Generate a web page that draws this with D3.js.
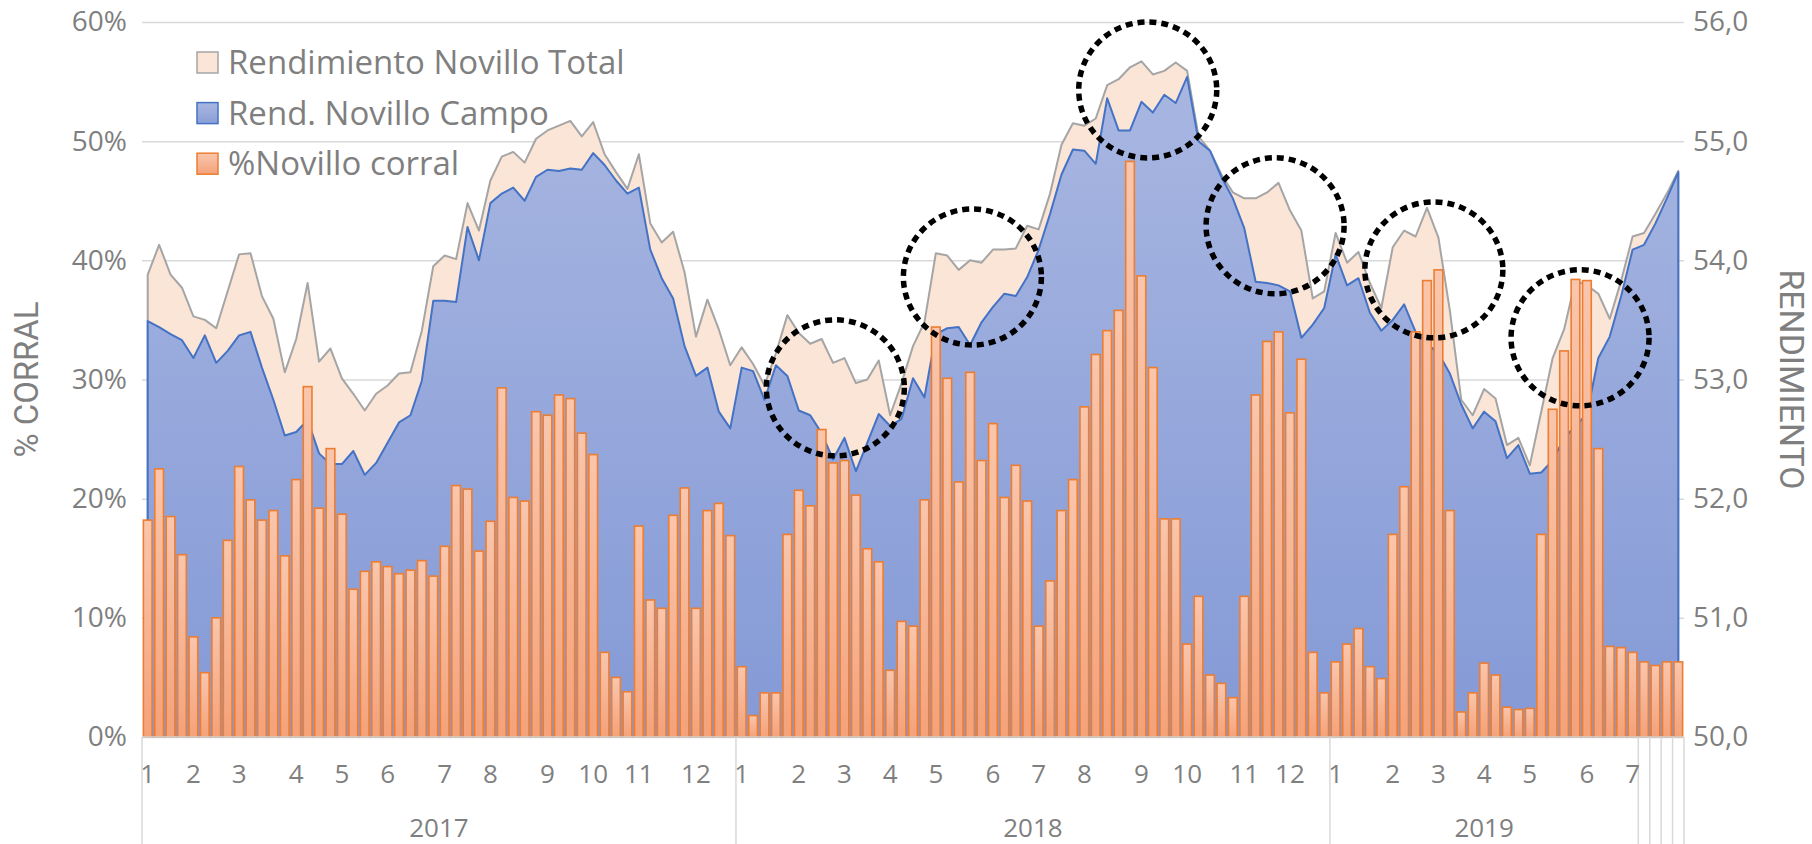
<!DOCTYPE html>
<html lang="es">
<head>
<meta charset="utf-8">
<title>Rendimiento novillo y % novillo corral</title>
<script src="https://cdn.jsdelivr.net/npm/d3@7"></script>
<style>
  body { margin: 0; background: #fff; }
  svg text { font-family: "Open Sans", sans-serif; fill: #7f7f7f; }
</style>
</head>
<body>
<script>
// weekly data, Jan 2017 -> Jul 2019 (135 weeks)
var corral = [
  18.2, 22.5, 18.5, 15.3, 8.4, 5.4, 10.0, 16.5, 22.7, 19.9, 18.2, 19.0, 15.2,
  21.6, 29.4, 19.2, 24.2, 18.7, 12.4, 13.9, 14.7, 14.3, 13.7, 14.0, 14.8, 13.5,
  16.0, 21.1, 20.8, 15.6, 18.1, 29.3, 20.1, 19.8, 27.3, 27.0, 28.7, 28.4, 25.5,
  23.7, 7.1, 5.0, 3.8, 17.7, 11.5, 10.8, 18.6, 20.9, 10.8, 19.0, 19.6, 16.9,
  // 2018
  5.9, 1.8, 3.7, 3.7, 17.0, 20.7, 19.4, 25.8, 23.0, 23.2, 20.3, 15.8, 14.7,
  5.6, 9.7, 9.3, 19.9, 34.4, 30.1, 21.4, 30.6, 23.2, 26.3, 20.1, 22.8, 19.8,
  9.3, 13.1, 19.0, 21.6, 27.7, 32.1, 34.1, 35.8, 48.3, 38.7, 31.0, 18.3, 18.3,
  7.8, 11.8, 5.2, 4.5, 3.3, 11.8, 28.7, 33.2, 34.0, 27.2, 31.7, 7.1, 3.7,
  // 2019
  6.3, 7.8, 9.1, 5.9, 4.9, 17.0, 21.0, 34.0, 38.3, 39.2, 19.0, 2.1, 3.7,
  6.2, 5.2, 2.5, 2.3, 2.4, 17.0, 27.5, 32.4, 38.4, 38.3, 24.2, 7.6, 7.5,
  7.1, 6.3, 6.0, 6.3, 6.3
];

var rendTotal = [
  53.88, 54.13, 53.88, 53.77, 53.53, 53.50, 53.43, 53.74, 54.05, 54.06, 53.70, 53.51, 53.06,
  53.34, 53.81, 53.15, 53.26, 53.01, 52.88, 52.74, 52.88, 52.95, 53.05, 53.06, 53.41, 53.95,
  54.04, 54.01, 54.48, 54.25, 54.67, 54.87, 54.91, 54.82, 55.02, 55.09, 55.13, 55.17, 55.04,
  55.16, 54.89, 54.74, 54.60, 54.89, 54.31, 54.15, 54.24, 53.90, 53.36, 53.67, 53.42, 53.12,
  53.27, 53.13, 52.95, 53.22, 53.54, 53.39, 53.30, 53.34, 53.14, 53.18, 52.97, 53.00, 53.16,
  52.70, 52.97, 53.28, 53.48, 54.06, 54.04, 53.92, 54.00, 53.98, 54.09, 54.09, 54.10, 54.29,
  54.26, 54.56, 54.97, 55.15, 55.13, 55.19, 55.47, 55.52, 55.62, 55.67, 55.56, 55.59, 55.66,
  55.59, 55.04, 54.92, 54.72, 54.57, 54.52, 54.52, 54.57, 54.65, 54.42, 54.25, 53.68, 53.74,
  54.23, 53.98, 54.07, 53.81, 53.60, 54.11, 54.25, 54.20, 54.44, 54.19, 53.58, 52.83, 52.70,
  52.92, 52.84, 52.45, 52.51, 52.28, 52.73, 53.18, 53.42, 53.83, 53.79, 53.72, 53.51, 53.83,
  54.20, 54.23, 54.39, 54.56, 54.75
];

var rendCampo = [
  53.49, 53.44, 53.38, 53.33, 53.18, 53.37, 53.14, 53.24, 53.37, 53.40, 53.10, 52.83, 52.53,
  52.56, 52.66, 52.38, 52.29, 52.29, 52.40, 52.20, 52.30, 52.47, 52.64, 52.70, 52.99, 53.66,
  53.66, 53.65, 54.28, 54.00, 54.48, 54.56, 54.61, 54.50, 54.70, 54.76, 54.75, 54.77, 54.76,
  54.90, 54.80, 54.67, 54.56, 54.61, 54.09, 53.85, 53.68, 53.28, 53.03, 53.10, 52.73, 52.59,
  53.10, 53.07, 52.83, 53.12, 53.03, 52.74, 52.70, 52.55, 52.33, 52.51, 52.23, 52.47, 52.71,
  52.61, 52.67, 53.01, 52.85, 53.38, 53.43, 53.44, 53.29, 53.48, 53.61, 53.72, 53.70, 53.86,
  54.09, 54.39, 54.72, 54.93, 54.92, 54.81, 55.36, 55.09, 55.09, 55.33, 55.24, 55.39, 55.32,
  55.54, 55.00, 54.92, 54.70, 54.52, 54.27, 53.82, 53.81, 53.79, 53.74, 53.35, 53.46, 53.60,
  54.05, 53.79, 53.85, 53.56, 53.41, 53.50, 53.63, 53.40, 53.30, 53.22, 53.05, 52.79, 52.59,
  52.73, 52.65, 52.34, 52.45, 52.21, 52.22, 52.32, 52.51, 52.61, 52.71, 53.18, 53.36, 53.70,
  54.09, 54.13, 54.31, 54.52, 54.74
];

// category axis: year groups, weeks in each month
var yearLabels = ["2017", "2018", "2019", "", "", "", ""];
var monthTicks = ["1", "2", "3", "4", "5", "6", "7", "8", "9", "10", "11", "12"];
var weeksPerMonth = [
  [4, 4, 5, 4, 4, 5, 4, 5, 4, 4, 5, 4],
  [5, 4, 4, 4, 5, 4, 4, 5, 4, 5, 4, 4],
  [5, 4, 4, 4, 5, 4, 1],
  [1], [1], [1], [1]
];

var pctTicks = [0, 10, 20, 30, 40, 50, 60];
var rendTicks = [50, 51, 52, 53, 54, 55, 56];

var seriesNames = ["Rendimiento Novillo Total", "Rend. Novillo Campo", "%Novillo corral"];

// dotted circles: [week position, rendimiento]
var highlights = [[60.2, 52.93], [72.2, 53.86], [87.55, 55.43], [98.7, 54.29], [112.6, 53.92], [125.4, 53.35]];

// ---- build categories
var cats = [], groups = [];
weeksPerMonth.forEach(function (months, g) {
  var start = cats.length;
  months.forEach(function (n, m) {
    for (var w = 0; w < n; w++) {
      cats.push({ idx: cats.length, label: (w === 0 && yearLabels[g]) ? monthTicks[m] : "" });
    }
  });
  groups.push({ year: yearLabels[g], start: start, end: cats.length });
});

var W = 1812, H = 844;
var mLeft = 142, mRight = 1684, mTop = 22, mBottom = 737;

var svg = d3.select("body").append("svg").attr("width", W).attr("height", H);
var defs = svg.append("defs");

var blueGrad = defs.append("linearGradient").attr("id", "blueGrad")
  .attr("gradientUnits", "userSpaceOnUse").attr("x1", 0).attr("x2", 0).attr("y1", mTop).attr("y2", mBottom);
blueGrad.append("stop").attr("offset", 0).attr("stop-color", "#abb9e2");
blueGrad.append("stop").attr("offset", 1).attr("stop-color", "#8499d6");

var barGrad = defs.append("linearGradient").attr("id", "barGrad")
  .attr("x1", 0).attr("x2", 0).attr("y1", 0).attr("y2", 1);
barGrad.append("stop").attr("offset", 0).attr("stop-color", "#f9c6ad");
barGrad.append("stop").attr("offset", 1).attr("stop-color", "#f4a27a");

var legBlue = defs.append("linearGradient").attr("id", "legBlue")
  .attr("x1", 0).attr("x2", 0).attr("y1", 0).attr("y2", 1);
legBlue.append("stop").attr("offset", 0).attr("stop-color", "#a9b7e0");
legBlue.append("stop").attr("offset", 1).attr("stop-color", "#8a9ed8");

var x = d3.scaleBand().domain(d3.range(cats.length)).range([mLeft, mRight])
  .paddingInner(0.24).paddingOuter(0.12);
var xc = function (i) { return x(i) + x.bandwidth() / 2; };
var xPos = d3.scaleLinear().domain([-0.5, cats.length - 0.5]).range([mLeft, mRight]);

var yL = d3.scaleLinear().domain([0, 60]).range([mBottom, mTop]);
var yR = d3.scaleLinear().domain([50, 56]).range([mBottom, mTop]);

// gridlines
svg.append("g")
  .attr("transform", "translate(" + mLeft + ",0)")
  .call(d3.axisLeft(yL).tickValues(pctTicks).tickSize(-(mRight - mLeft)).tickFormat(""))
  .call(function (g) {
    g.select(".domain").remove();
    g.selectAll("line").attr("stroke", "#d9d9d9").attr("stroke-width", 1.5);
  });

// areas
var area = function (vals) {
  return d3.area()
    .x(function (d, i) { return xc(i); })
    .y0(yR(50))
    .y1(function (d) { return yR(d); })(vals);
};

svg.append("path").attr("d", area(rendTotal))
  .attr("fill", "#fbe5d6").attr("stroke", "#a5a5a5").attr("stroke-width", 2)
  .attr("stroke-linejoin", "round");

svg.append("path").attr("d", area(rendCampo))
  .attr("fill", "url(#blueGrad)").attr("stroke", "#4472c4").attr("stroke-width", 2)
  .attr("stroke-linejoin", "round");

// bars
svg.append("g").selectAll("rect").data(corral).join("rect")
  .attr("x", function (d, i) { return x(i); })
  .attr("y", function (d) { return yL(d); })
  .attr("width", x.bandwidth())
  .attr("height", function (d) { return yL(0) - yL(d); })
  .attr("fill", "url(#barGrad)")
  .attr("stroke", "#ed7d31")
  .attr("stroke-width", 1.6);

// x axis line and group separators
svg.append("line").attr("x1", mLeft).attr("x2", mRight).attr("y1", mBottom).attr("y2", mBottom)
  .attr("stroke", "#d9d9d9").attr("stroke-width", 1.5);

var seps = groups.map(function (g) { return g.start; }).concat([cats.length]);
svg.append("g").selectAll("line").data(seps).join("line")
  .attr("x1", function (d) { return xPos(d - 0.5); })
  .attr("x2", function (d) { return xPos(d - 0.5); })
  .attr("y1", mBottom).attr("y2", H)
  .attr("stroke", "#d9d9d9").attr("stroke-width", 1.5);

// month labels
svg.append("g").selectAll("text").data(cats.filter(function (c) { return c.label; }))
  .join("text")
  .attr("x", function (c) { return xc(c.idx); })
  .attr("y", 783)
  .attr("text-anchor", "middle")
  .attr("font-size", 26)
  .text(function (c) { return c.label; });

// year labels
svg.append("g").selectAll("text").data(groups.filter(function (g) { return g.year; }))
  .join("text")
  .attr("x", function (g) { return (xPos(g.start - 0.5) + xPos(g.end - 0.5)) / 2; })
  .attr("y", 837)
  .attr("text-anchor", "middle")
  .attr("font-size", 26)
  .text(function (g) { return g.year; });

// left axis labels
svg.append("g")
  .attr("transform", "translate(" + (mLeft - 15) + ",0)")
  .call(d3.axisLeft(yL).tickValues(pctTicks).tickSize(0).tickPadding(0)
    .tickFormat(function (d) { return d + "%"; }))
  .call(function (g) {
    g.select(".domain").remove();
    g.selectAll("text").attr("font-size", 28).attr("font-family", null).attr("fill", null);
  });

// right axis labels
var es = d3.formatLocale({ decimal: ",", thousands: ".", grouping: [3], currency: ["", "$"] });
svg.append("g")
  .attr("transform", "translate(" + 1693 + ",0)")
  .call(d3.axisRight(yR).tickValues(rendTicks).tickSize(0).tickPadding(0)
    .tickFormat(es.format(".1f")))
  .call(function (g) {
    g.select(".domain").remove();
    g.selectAll("text").attr("font-size", 28).attr("font-family", null).attr("fill", null);
  });

// axis titles
svg.append("text")
  .attr("transform", "translate(38," + (mTop + mBottom) / 2 + ") rotate(-90)")
  .attr("text-anchor", "middle")
  .attr("font-size", 34)
  .attr("textLength", 156).attr("lengthAdjust", "spacingAndGlyphs")
  .style("font-family", "'Liberation Sans Narrow', Roboto, sans-serif")
  .text("% CORRAL");

svg.append("text")
  .attr("transform", "translate(1780," + (mTop + mBottom) / 2 + ") rotate(90)")
  .attr("text-anchor", "middle")
  .attr("font-size", 33)
  .attr("textLength", 220).attr("lengthAdjust", "spacingAndGlyphs")
  .style("font-family", "'Liberation Sans Narrow', Roboto, sans-serif")
  .text("RENDIMIENTO");

// dotted highlight circles
svg.append("g").selectAll("ellipse").data(highlights).join("ellipse")
  .attr("cx", function (d) { return xPos(d[0]); })
  .attr("cy", function (d) { return yR(d[1]); })
  .attr("rx", 69).attr("ry", 68)
  .attr("fill", "none")
  .attr("stroke", "#000")
  .attr("stroke-width", 5.5)
  .attr("stroke-dasharray", "7 5");

// legend
var legFill = ["#fbe5d6", "url(#legBlue)", "url(#barGrad)"];
var legStroke = ["#a5a5a5", "#4472c4", "#ed7d31"];
var leg = svg.append("g").selectAll("g").data(seriesNames).join("g")
  .attr("transform", function (d, i) { return "translate(197," + (52 + i * 50.6) + ")"; });
leg.append("rect").attr("width", 21).attr("height", 21)
  .attr("fill", function (d, i) { return legFill[i]; })
  .attr("stroke", function (d, i) { return legStroke[i]; })
  .attr("stroke-width", 1.5);
leg.append("text").attr("x", 31).attr("y", 22)
  .attr("font-size", 33)
  .text(function (d) { return d; });
</script>
</body>
</html>
